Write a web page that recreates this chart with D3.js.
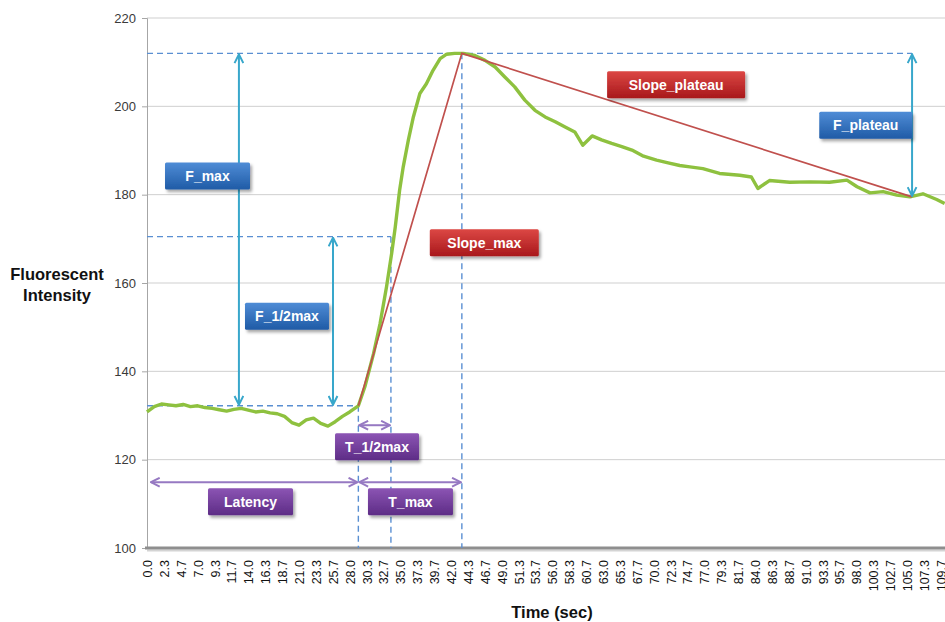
<!DOCTYPE html>
<html>
<head>
<meta charset="utf-8">
<script src="https://cdn.jsdelivr.net/npm/d3@7"></script>
<style>
  html, body { margin: 0; padding: 0; background: #ffffff; }
  #chart { width: 945px; height: 622px; overflow: hidden; }
  text { font-family: "Liberation Sans", Arial, sans-serif; }
</style>
</head>
<body>
<div id="chart"></div>
<script>
// Fluorescence trace (time in sec, intensity)
const traceTimes = [
  0, 1, 2, 3, 4, 5, 6, 7, 8, 9, 10, 11, 12, 13, 14, 15, 16, 17, 18, 19,
  20, 21, 22, 23, 24, 25, 26, 27, 28, 29.2, 30.1, 31.3, 32.2, 33.1, 33.8,
  34.3, 34.9, 35.4, 36.1, 36.8, 37.7, 38.6, 39.5, 40.5, 41.4, 42.5, 43.7,
  45.3, 46.7, 48.1, 49.4, 50.8, 52.2, 53.6, 55.0, 56.4, 57.7, 59.1, 60.2,
  61.5, 62.8, 64.2, 65.6, 67.0, 68.6, 70.4, 72.0, 73.6, 75.0, 76.8, 79.1,
  81.9, 83.5, 84.4, 86.0, 88.8, 91.6, 94.3, 96.7, 98.1, 99.9, 101.7, 103.6,
  105.4, 107.2, 109.1, 110.2,
];
const traceValues = [
  130.8, 132.0, 132.6, 132.4, 132.2, 132.5, 132.0, 132.2, 131.8, 131.6,
  131.3, 131.0, 131.4, 131.6, 131.2, 130.8, 131.0, 130.6, 130.4, 129.8,
  128.4, 127.8, 129.0, 129.4, 128.2, 127.6, 128.6, 129.8, 130.8, 132.2,
  136.5, 144.0, 150.8, 159.2, 166.7, 172.7, 181.0, 186.3, 192.3, 197.6,
  202.9, 205.1, 208.1, 210.8, 211.8, 212.0, 212.0, 211.5, 210.4, 208.9,
  206.7, 204.4, 201.4, 199.1, 197.6, 196.5, 195.4, 194.2, 191.2, 193.3,
  192.4, 191.6, 190.9, 190.1, 188.7, 187.8, 187.2, 186.6, 186.3, 185.9,
  184.8, 184.4, 184.0, 181.4, 183.2, 182.8, 182.9, 182.8, 183.3, 181.8,
  180.4, 180.7, 179.9, 179.5, 180.2, 178.9, 178.0,
];

// Category labels of the time axis (one every 7 samples)
const timeLabels = [
  "0.0", "2.3", "4.7", "7.0", "9.3", "11.7", "14.0", "16.3", "18.7", "21.0",
  "23.3", "25.7", "28.0", "30.3", "32.7", "35.0", "37.3", "39.7", "42.0",
  "44.3", "46.7", "49.0", "51.3", "53.7", "56.0", "58.3", "60.7", "63.0",
  "65.3", "67.7", "70.0", "72.3", "74.7", "77.0", "79.3", "81.7", "84.0",
  "86.3", "88.7", "91.0", "93.3", "95.7", "98.0", "100.3", "102.7", "105.0",
  "107.3", "109.7",
];
const yTicks = [100, 120, 140, 160, 180, 200, 220];

// Key points of the kinetics
const keyTimes = [29.2, 33.7, 43.5, 105.7]; // onset, half max, peak, plateau
const keyValues = [132.2, 170.5, 212.0, 179.5]; // baseline, half, peak, plateau

// Arrow placements (data units)
const fMaxArrowTime = 12.7;
const fHalfArrowTime = 25.7;
const latencyArrowValue = 114.9;
const tHalfArrowValue = 127.8;

// Annotation boxes
const boxLabels = ["F_max", "F_1/2max", "F_plateau", "Slope_max", "Slope_plateau", "T_1/2max", "Latency", "T_max"];
const boxTimes = [8.36, 19.34, 99.3, 46.6, 73.1, 31.78, 14.3, 36.4];
const boxValues = [184.2, 152.5, 195.7, 169.1, 204.9, 122.9, 110.5, 110.5];
const boxKinds = ["blue", "blue", "blue", "red", "red", "purple", "purple", "purple"];

document.addEventListener("DOMContentLoaded", function () {
  const W = 945;
  const H = 622;
  const margin = { top: 18, left: 147, bottom: 74 };
  const plotBottom = H - margin.bottom;

  const svg = d3
    .select("#chart")
    .append("svg")
    .attr("width", W)
    .attr("height", H);

  const defs = svg.append("defs");

  // box gradients
  const grads = {
    blue: ["#4f8cd6", "#1f5ba6"],
    red: ["#dc4744", "#a8181b"],
    purple: ["#8c55b4", "#5d2c86"],
  };
  Object.keys(grads).forEach(function (k) {
    const g = defs
      .append("linearGradient")
      .attr("id", "grad-" + k)
      .attr("x1", 0).attr("y1", 0).attr("x2", 0).attr("y2", 1);
    g.append("stop").attr("offset", "0%").attr("stop-color", grads[k][0]);
    g.append("stop").attr("offset", "100%").attr("stop-color", grads[k][1]);
  });

  defs
    .append("filter")
    .attr("id", "shadow")
    .attr("x", "-10%").attr("y", "-10%").attr("width", "130%").attr("height", "150%")
    .append("feDropShadow")
    .attr("dx", 2).attr("dy", 2.5).attr("stdDeviation", 1.5)
    .attr("flood-color", "#000").attr("flood-opacity", 0.35);

  // chevron arrow heads
  function addMarker(id, color) {
    defs
      .append("marker")
      .attr("id", id)
      .attr("viewBox", "0 0 10 10")
      .attr("refX", 9)
      .attr("refY", 5)
      .attr("markerWidth", 11)
      .attr("markerHeight", 11)
      .attr("markerUnits", "userSpaceOnUse")
      .attr("orient", "auto-start-reverse")
      .append("path")
      .attr("d", "M1,1 L9,5 L1,9")
      .attr("fill", "none")
      .attr("stroke", color)
      .attr("stroke-width", 1.8);
  }
  addMarker("head-cyan", "#38a7cb");
  addMarker("head-purple", "#9679c2");

  // Scales
  const x = d3.scaleLinear().domain([0, 110.25]).range([margin.left, W]);
  const y = d3.scaleLinear().domain([100, 220]).range([plotBottom, margin.top]);

  // Horizontal grid lines
  svg
    .append("g")
    .selectAll("line")
    .data(yTicks.filter((d) => d > 100))
    .enter()
    .append("line")
    .attr("x1", margin.left)
    .attr("x2", W)
    .attr("y1", (d) => y(d))
    .attr("y2", (d) => y(d))
    .attr("stroke", "#cfcfcf")
    .attr("stroke-width", 1);

  // Y axis
  const yAxis = svg
    .append("g")
    .attr("transform", `translate(${margin.left},0)`)
    .call(d3.axisLeft(y).tickValues(yTicks).tickSize(5).tickPadding(6));
  yAxis.select(".domain").attr("stroke", "#a6a6a6");
  yAxis.selectAll(".tick line").attr("stroke", "#a6a6a6");
  yAxis
    .selectAll("text")
    .style("font-size", "13px")
    .style("font-family", "'Liberation Sans', Arial, sans-serif")
    .attr("fill", "#3a3a3a");

  // X axis (category labels, rotated)
  const xAxis = svg
    .append("g")
    .attr("transform", `translate(0,${plotBottom})`)
    .call(
      d3
        .axisBottom(x)
        .tickValues(timeLabels.map((d, i) => (i * 7) / 3))
        .tickFormat((d, i) => timeLabels[i])
        .tickSize(0)
    );
  xAxis.select(".domain").remove();
  xAxis
    .selectAll("text")
    .attr("transform", "rotate(-90)")
    .attr("x", -12)
    .attr("y", 0)
    .attr("dy", "0.36em")
    .style("text-anchor", "end")
    .style("font-size", "12.5px")
    .style("font-family", "'Liberation Sans', Arial, sans-serif")
    .attr("fill", "#111");

  // bottom axis line with a soft shadow
  svg
    .append("line")
    .attr("x1", margin.left).attr("x2", W)
    .attr("y1", plotBottom + 2.5).attr("y2", plotBottom + 2.5)
    .attr("stroke", "#d4d4d4").attr("stroke-width", 2);
  svg
    .append("line")
    .attr("x1", margin.left - 2).attr("x2", W)
    .attr("y1", plotBottom).attr("y2", plotBottom)
    .attr("stroke", "#8e8e8e").attr("stroke-width", 3);

  // Axis titles
  svg
    .append("text")
    .attr("x", 57)
    .attr("y", 280)
    .attr("text-anchor", "middle")
    .style("font-size", "16.5px")
    .style("font-weight", "bold")
    .attr("fill", "#111")
    .text("Fluorescent");
  svg
    .append("text")
    .attr("x", 57)
    .attr("y", 301)
    .attr("text-anchor", "middle")
    .style("font-size", "16.5px")
    .style("font-weight", "bold")
    .attr("fill", "#111")
    .text("Intensity");
  svg
    .append("text")
    .attr("x", 552)
    .attr("y", 618)
    .attr("text-anchor", "middle")
    .style("font-size", "16.5px")
    .style("font-weight", "bold")
    .attr("fill", "#111")
    .text("Time (sec)");

  const [tOnset, tHalf, tPeak, tPlateau] = keyTimes;
  const [vBase, vHalf, vPeak, vPlateau] = keyValues;

  // Dashed guide lines
  const dashed = svg.append("g")
    .attr("stroke", "#5a8fd2")
    .attr("stroke-width", 1.4)
    .attr("stroke-dasharray", "6,4")
    .attr("fill", "none");
  const guides = [
    [[0, vPeak], [tPlateau, vPeak]],
    [[0, vHalf], [tHalf, vHalf]],
    [[0, vBase], [tOnset, vBase]],
    [[tOnset, vBase], [tOnset, 100]],
    [[tHalf, vHalf], [tHalf, 100]],
    [[tPeak, vPeak], [tPeak, 100]],
  ];
  guides.forEach(function (g) {
    dashed
      .append("line")
      .attr("x1", x(g[0][0])).attr("y1", y(g[0][1]))
      .attr("x2", x(g[1][0])).attr("y2", y(g[1][1]));
  });

  // Green fluorescence trace
  const trace = traceTimes.map((t, i) => ({ t: t, v: traceValues[i] }));
  const line = d3
    .line()
    .x((d) => x(d.t))
    .y((d) => y(d.v));
  svg
    .append("path")
    .datum(trace)
    .attr("d", line)
    .attr("fill", "none")
    .attr("stroke", "#8ec13f")
    .attr("stroke-width", 3.4)
    .attr("stroke-linejoin", "round");

  // Red slope lines
  svg
    .append("path")
    .datum([[tOnset, vBase], [tPeak, vPeak], [tPlateau, vPlateau]])
    .attr("d", d3.line().x((d) => x(d[0])).y((d) => y(d[1])))
    .attr("fill", "none")
    .attr("stroke", "#c0504d")
    .attr("stroke-width", 1.7);

  // Cyan vertical double arrows
  const vArrows = [
    [fMaxArrowTime, vPeak, vBase],
    [fHalfArrowTime, vHalf, vBase],
    [tPlateau, vPeak, vPlateau],
  ];
  svg
    .append("g")
    .selectAll("line")
    .data(vArrows)
    .enter()
    .append("line")
    .attr("x1", (d) => x(d[0]))
    .attr("x2", (d) => x(d[0]))
    .attr("y1", (d) => y(d[1]) + 1)
    .attr("y2", (d) => y(d[2]) - 1)
    .attr("stroke", "#38a7cb")
    .attr("stroke-width", 2)
    .attr("marker-start", "url(#head-cyan)")
    .attr("marker-end", "url(#head-cyan)");

  // Purple horizontal double arrows
  const hArrows = [
    [0.4, tOnset, latencyArrowValue],
    [tOnset, tPeak, latencyArrowValue],
    [tOnset, tHalf, tHalfArrowValue],
  ];
  svg
    .append("g")
    .selectAll("line")
    .data(hArrows)
    .enter()
    .append("line")
    .attr("x1", (d) => x(d[0]) + 1)
    .attr("x2", (d) => x(d[1]) - 1)
    .attr("y1", (d) => y(d[2]))
    .attr("y2", (d) => y(d[2]))
    .attr("stroke", "#9679c2")
    .attr("stroke-width", 2)
    .attr("marker-start", "url(#head-purple)")
    .attr("marker-end", "url(#head-purple)");

  // Label boxes
  const boxWidth = {
    F_max: 85, "F_1/2max": 84, F_plateau: 93, Slope_max: 109,
    Slope_plateau: 138, "T_1/2max": 84, Latency: 85, T_max: 85,
  };
  const boxH = 27;
  const boxes = svg
    .append("g")
    .selectAll("g")
    .data(boxLabels.map((l, i) => ({ label: l, t: boxTimes[i], v: boxValues[i], kind: boxKinds[i] })))
    .enter()
    .append("g")
    .attr("transform", (d) => `translate(${x(d.t)},${y(d.v)})`);
  boxes
    .append("rect")
    .attr("x", (d) => -boxWidth[d.label] / 2)
    .attr("y", -boxH / 2)
    .attr("width", (d) => boxWidth[d.label])
    .attr("height", boxH)
    .attr("rx", 1.5)
    .attr("fill", (d) => `url(#grad-${d.kind})`)
    .attr("filter", "url(#shadow)");
  boxes
    .append("text")
    .attr("text-anchor", "middle")
    .attr("dy", "0.36em")
    .style("font-size", "14px")
    .style("font-weight", "bold")
    .attr("fill", "#ffffff")
    .text((d) => d.label);
});
</script>
</body>
</html>
